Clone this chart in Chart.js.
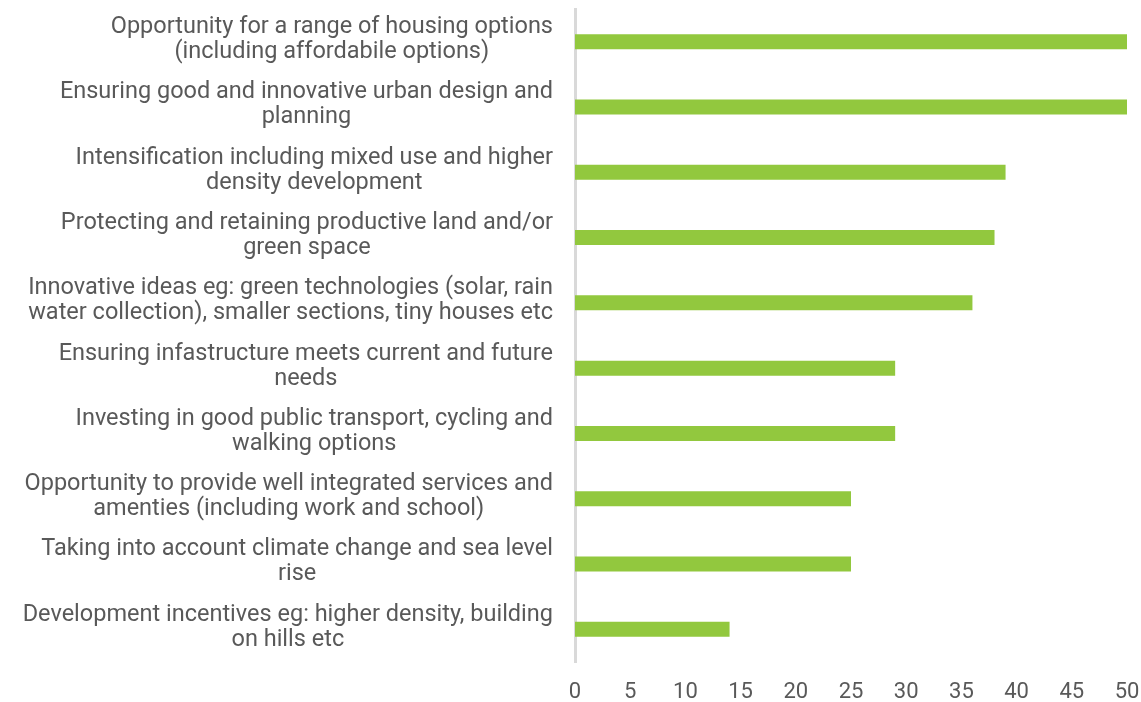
<!DOCTYPE html>
<html>
<head>
<meta charset="utf-8">
<script src="https://cdn.jsdelivr.net/npm/chart.js@4/dist/chart.umd.min.js"></script>
<style>
  html, body { margin: 0; padding: 0; background: #fff; }
  #grafico { display: block; }
</style>
</head>
<body>
<canvas id="grafico" width="1141" height="702"></canvas>
<script>
// categorias (cada uma em linhas, como no original)
const categorias = [
  ["Opportunity for a range of housing options", "(including affordabile options)"],
  ["Ensuring good and innovative urban design and", "planning"],
  ["Intensification including mixed use and higher", "density development"],
  ["Protecting and retaining productive land and/or", "green space"],
  ["Innovative ideas eg: green technologies (solar, rain", "water collection), smaller sections, tiny houses etc"],
  ["Ensuring infastructure meets current and future", "needs"],
  ["Investing in good public transport, cycling and", "walking options"],
  ["Opportunity to provide well integrated services and", "amenties (including work and school)"],
  ["Taking into account climate change and sea level", "rise"],
  ["Development incentives eg: higher density, building", "on hills etc"]
];
const valores = [50, 50, 39, 38, 36, 29, 29, 25, 25, 14];
const eixoMin = 0;
const eixoMax = 50;
const eixoPasso = 5;

const corTexto = "#595959";
const fonteFamilia = "Roboto, 'Liberation Sans', Arial, sans-serif";
const fonteRotulo = 23.5;
const fonteEixo = 22;

// Desenha os rótulos do eixo Y: bloco alinhado à direita, linhas centralizadas
const rotulosY = {
  id: "rotulosY",
  afterDraw(chart) {
    const ctx = chart.ctx;
    const escala = chart.scales.y;
    const direita = chart.chartArea.left - 22;
    const alturaLinha = 25;
    ctx.save();
    ctx.font = fonteRotulo + "px " + fonteFamilia;
    ctx.fillStyle = corTexto;
    ctx.textAlign = "center";
    ctx.textBaseline = "middle";
    categorias.forEach((linhas, i) => {
      const larguraBloco = Math.max(...linhas.map(l => ctx.measureText(l).width));
      const centroX = direita - larguraBloco / 2;
      const y = escala.getPixelForTick(i) - 2;
      const inicio = y - (linhas.length - 1) * alturaLinha / 2;
      linhas.forEach((l, j) => ctx.fillText(l, centroX, inicio + j * alturaLinha));
    });
    ctx.restore();
  }
};

new Chart(document.getElementById("grafico").getContext("2d"), {
  type: "bar",
  data: {
    labels: categorias,
    datasets: [{
      data: valores,
      backgroundColor: "#92C83E",
      borderWidth: 0,
      categoryPercentage: 1,
      barPercentage: 0.23
    }]
  },
  options: {
    indexAxis: "y",
    responsive: false,
    animation: false,
    layout: { padding: { top: 9, right: 0, bottom: 0, left: 0 } },
    plugins: { legend: { display: false }, tooltip: { enabled: false } },
    scales: {
      x: {
        min: eixoMin,
        max: eixoMax,
        ticks: {
          stepSize: eixoPasso,
          color: corTexto,
          padding: 17,
          maxRotation: 0,
          font: { family: fonteFamilia, size: fonteEixo }
        },
        grid: { display: false, drawTicks: false },
        border: { display: false },
        afterFit(escala) {
          escala.height = 40;
          escala.paddingRight = 14;
        }
      },
      y: {
        ticks: { display: false },
        grid: { display: false, drawTicks: false },
        border: { display: true, color: "#d9d9d9", width: 3 },
        afterFit(escala) { escala.width = 575; }
      }
    }
  },
  plugins: [rotulosY]
});
</script>
</body>
</html>
